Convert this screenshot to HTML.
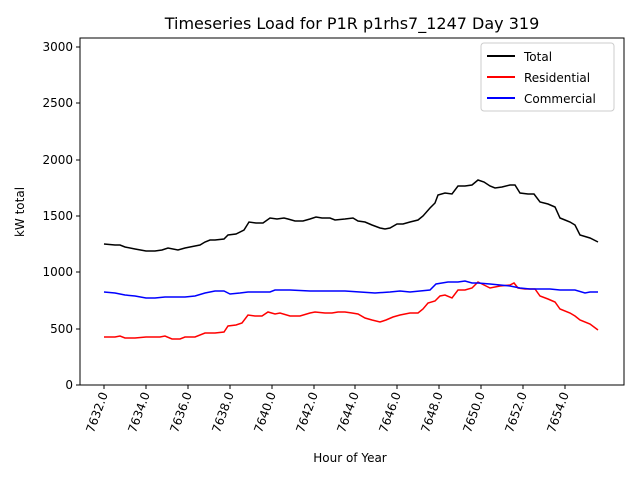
<!DOCTYPE html>
<html><head><style>body{margin:0;background:#fff}svg{display:block}text{font-family:"DejaVu Sans","Liberation Sans",sans-serif}</style></head><body>
<svg width="640" height="480" viewBox="0 0 640 480">
<rect width="640" height="480" fill="#fff"/>
<text x="352" y="29" font-size="16" text-anchor="middle">Timeseries Load for P1R p1rhs7_1247  Day 319</text>
<g fill="none" stroke-width="1.5">
<polyline stroke="#000" points="104,244 115,245 120,245 125,247 135,249 146,251 155,251 162,250 168,248 178,250 185,248 195,246 200,245 205,242 210,240 215,240 224,239 228,235 236,234 244,230 249,222 256,223 263,223 270,218 277,219 284,218 288,219 295,221 303,221 310,219 316,217 322,218 330,218 335,220 345,219 353,218 358,221 365,222 372,225 380,228 385,229 390,228 397,224 403,224 410,222 418,220 423,216 430,208 435,203 438,195 445,193 452,194 458,186 465,186 472,185 478,180 484,182 490,186 495,188 502,187 510,185 515,185 520,193 528,194 534,194 540,202 548,204 555,207 560,218 565,220 570,222 575,225 580,235 590,238 598,242"/>
<polyline stroke="#f00" points="104,337 115,337 120,336 125,338 135,338 146,337 160,337 165,336 172,339 180,339 185,337 195,337 205,333 215,333 224,332 228,326 236,325 242,323 248,315 255,316 262,316 268,312 275,314 280,313 290,316 300,316 310,313 315,312 325,313 332,313 338,312 345,312 352,313 358,314 365,318 372,320 380,322 386,320 393,317 400,315 410,313 418,313 423,309 428,303 435,301 440,296 445,295 452,298 458,290 465,290 472,288 478,282 484,285 490,288 500,286 510,285 514,283 518,288 525,289 535,289 540,296 548,299 555,302 560,309 570,313 575,316 580,320 590,324 598,330"/>
<polyline stroke="#00f" points="104,292 115,293 125,295 135,296 146,298 155,298 165,297 185,297 195,296 205,293 215,291 224,291 230,294 240,293 248,292 260,292 270,292 275,290 290,290 310,291 320,291 330,291 345,291 360,292 375,293 390,292 400,291 410,292 420,291 430,290 436,284 442,283 448,282 458,282 465,281 472,283 478,283 490,284 500,285 510,286 520,288 530,289 540,289 550,289 560,290 575,290 585,293 590,292 598,292"/>
</g>
<rect x="80" y="38" width="544" height="347" fill="none" stroke="#000" stroke-width="1"/>
<g stroke="#000">
<line x1="76" y1="385" x2="80" y2="385"/><line x1="76" y1="329" x2="80" y2="329"/><line x1="76" y1="272" x2="80" y2="272"/><line x1="76" y1="216" x2="80" y2="216"/><line x1="76" y1="160" x2="80" y2="160"/><line x1="76" y1="103" x2="80" y2="103"/><line x1="76" y1="47" x2="80" y2="47"/>
</g>
<g font-size="12" text-anchor="end">
<text x="73" y="389">0</text><text x="73" y="333">500</text><text x="73" y="276">1000</text><text x="73" y="220">1500</text><text x="73" y="164">2000</text><text x="73" y="107">2500</text><text x="73" y="51">3000</text>
</g>
<text transform="translate(24,212) rotate(-90)" font-size="12" text-anchor="middle">kW total</text>
<g stroke="#000">
<line x1="104" y1="385" x2="104" y2="389"/><line x1="146" y1="385" x2="146" y2="389"/><line x1="188" y1="385" x2="188" y2="389"/><line x1="230" y1="385" x2="230" y2="389"/><line x1="272" y1="385" x2="272" y2="389"/><line x1="314" y1="385" x2="314" y2="389"/><line x1="355" y1="385" x2="355" y2="389"/><line x1="397" y1="385" x2="397" y2="389"/><line x1="439" y1="385" x2="439" y2="389"/><line x1="481" y1="385" x2="481" y2="389"/><line x1="523" y1="385" x2="523" y2="389"/><line x1="565" y1="385" x2="565" y2="389"/>
</g>
<g font-size="12" text-anchor="end">
<text transform="translate(108,394) rotate(-70)">7632.0</text>
<text transform="translate(150,394) rotate(-70)">7634.0</text>
<text transform="translate(192,394) rotate(-70)">7636.0</text>
<text transform="translate(234,394) rotate(-70)">7638.0</text>
<text transform="translate(276,394) rotate(-70)">7640.0</text>
<text transform="translate(318,394) rotate(-70)">7642.0</text>
<text transform="translate(359,394) rotate(-70)">7644.0</text>
<text transform="translate(401,394) rotate(-70)">7646.0</text>
<text transform="translate(443,394) rotate(-70)">7648.0</text>
<text transform="translate(485,394) rotate(-70)">7650.0</text>
<text transform="translate(527,394) rotate(-70)">7652.0</text>
<text transform="translate(569,394) rotate(-70)">7654.0</text>
</g>
<text x="350" y="462" font-size="12" text-anchor="middle">Hour of Year</text>
<rect x="481" y="43" width="133" height="68" rx="3" fill="#fff" stroke="#ccc"/>
<g stroke-width="2">
<line x1="487" y1="56" x2="515" y2="56" stroke="#000"/>
<line x1="487" y1="77" x2="515" y2="77" stroke="#f00"/>
<line x1="487" y1="98" x2="515" y2="98" stroke="#00f"/>
</g>
<g font-size="12">
<text x="524" y="61">Total</text><text x="524" y="82">Residential</text><text x="524" y="103">Commercial</text>
</g>
</svg>
</body></html>
